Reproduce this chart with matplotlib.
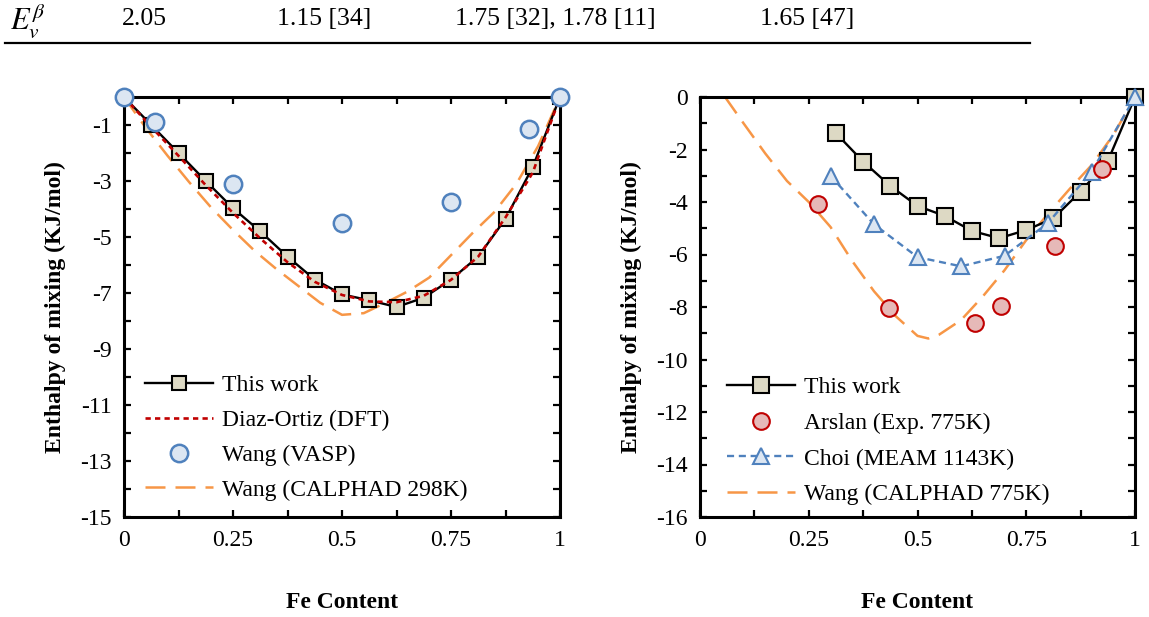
import matplotlib
matplotlib.use("Agg")
import matplotlib.pyplot as plt
from matplotlib.lines import Line2D
import numpy as np

# ---- data ----
# left panel
x_work_l = [0, 0.0625, 0.125, 0.1875, 0.25, 0.3125, 0.375, 0.4375, 0.5, 0.5625,
            0.625, 0.6875, 0.75, 0.8125, 0.875, 0.9375, 1]
y_work_l = [0, -1.0, -2.0, -3.0, -3.97, -4.8, -5.7, -6.52, -7.05, -7.26,
            -7.5, -7.17, -6.52, -5.7, -4.35, -2.5, 0]

x_dft = [0, 0.0625, 0.125, 0.1875, 0.25, 0.3125, 0.375, 0.4375, 0.5, 0.5625,
         0.625, 0.6875, 0.75, 0.8125, 0.875, 0.9375, 1]
y_dft = [0, -1.07, -2.1, -3.15, -4.14, -5.05, -5.9, -6.6, -7.07, -7.3,
         -7.33, -7.1, -6.53, -5.7, -4.3, -2.7, 0]

x_vasp = [0, 0.0714, 0.25, 0.5, 0.75, 0.9286, 1]
y_vasp = [0, -0.89, -3.1, -4.5, -3.75, -1.14, 0]

x_calphad298 = [0, 0.05, 0.1, 0.15, 0.2, 0.25, 0.3, 0.35, 0.4, 0.45, 0.5,
                0.55, 0.6, 0.65, 0.7, 0.75, 0.8, 0.85, 0.9, 0.95, 1]
y_calphad298 = [0, -1.1, -2.1, -3.05, -3.95, -4.75, -5.5, -6.15, -6.75, -7.35, -7.78,
                -7.72, -7.35, -6.95, -6.45, -5.65, -4.85, -4.1, -3.1, -1.75, 0]

# right panel
x_work_r = [0.3125, 0.375, 0.4375, 0.5, 0.5625, 0.625, 0.6875, 0.75, 0.8125,
            0.875, 0.9375, 1]
y_work_r = [-1.38, -2.46, -3.39, -4.15, -4.53, -5.1, -5.38, -5.07, -4.62,
            -3.6, -2.44, 0]

x_arslan = [0.272, 0.435, 0.632, 0.693, 0.816, 0.923]
y_arslan = [-4.08, -8.03, -8.6, -7.98, -5.66, -2.74]

x_choi = [0.3, 0.4, 0.5, 0.6, 0.7, 0.8, 0.9, 1.0]
y_choi = [-3.0, -4.85, -6.1, -6.45, -6.05, -4.8, -2.85, 0]

x_calphad775 = [0.0575, 0.1, 0.15, 0.2, 0.25, 0.3, 0.35, 0.4, 0.45, 0.5, 0.525,
                0.55, 0.6, 0.65, 0.7, 0.75, 0.8, 0.85, 0.9, 0.95, 1]
y_calphad775 = [0, -1.0, -2.15, -3.2, -4.0, -4.95, -6.25, -7.4, -8.35, -9.1, -9.2,
                -9.05, -8.5, -7.6, -6.6, -5.45, -4.45, -3.5, -2.6, -1.45, 0]

table_cells = ["2.05", "1.15 [34]", "1.75 [32], 1.78 [11]", "1.65 [47]"]

# ---- style ----
plt.rcParams["font.family"] = "Liberation Serif"
plt.rcParams["mathtext.fontset"] = "stix"
FS = 17

beige = "#DDD9C4"
blue_face = "#DCE6F2"
blue_edge = "#4F81BD"
red_face = "#E6B9B8"
red_edge = "#C00000"
orange = "#F79646"

fig = plt.figure(figsize=(11.49, 6.17), dpi=100)
W, H = 1149, 617

ax1 = fig.add_axes([124 / W, 1 - 517 / H, 436 / W, 420 / H])
ax2 = fig.add_axes([700 / W, 1 - 517 / H, 435 / W, 420 / H])


def style_axes(ax, ymin, label_every_odd):
    ax.set_xlim(0, 1)
    ax.set_ylim(ymin, 0)
    xt = np.arange(0, 1.001, 0.125)
    ax.set_xticks(xt)
    xl = {0: "0", 2: "0.25", 4: "0.5", 6: "0.75", 8: "1"}
    ax.set_xticklabels([xl.get(i, "") for i in range(len(xt))])
    yt = list(range(ymin, 1))
    ax.set_yticks(yt)
    labels = []
    for v in yt:
        show = (v % 2 != 0) if label_every_odd else (v % 2 == 0)
        labels.append(str(v) if show else "")
    ax.set_yticklabels(labels)
    ax.tick_params(direction="in", length=5, width=1.6, top=True, right=True,
                   labelsize=FS, pad=9)
    for s in ax.spines.values():
        s.set_linewidth(2.2)
    ax.set_xlabel("Fe Content", fontsize=FS, fontweight="bold", labelpad=30)
    ax.set_ylabel("Enthalpy of mixing (KJ/mol)", fontsize=FS, fontweight="bold", labelpad=10)


style_axes(ax1, -15, True)
style_axes(ax2, -16, False)

# left panel
h_cal1, = ax1.plot(x_calphad298, y_calphad298, color=orange, lw=1.8,
                   linestyle=(0, (8, 4)), label="Wang (CALPHAD 298K)", zorder=2)
h_work1, = ax1.plot(x_work_l, y_work_l, color="black", lw=1.7, marker="s", ms=10.5,
                    mfc=beige, mec="black", mew=1.5, label="This work", zorder=3)
h_dft, = ax1.plot(x_dft, y_dft, color=red_edge, lw=1.9, linestyle=(0, (2, 1.6)),
                  label="Diaz-Ortiz (DFT)", zorder=4)
h_vasp, = ax1.plot(x_vasp, y_vasp, linestyle="none", marker="o", ms=12.5,
                   mfc=blue_face, mec=blue_edge, mew=1.8, label="Wang (VASP)",
                   zorder=5, clip_on=False)
ax1.legend(handles=[h_work1, h_dft, h_vasp, h_cal1], loc="lower left",
           bbox_to_anchor=(0.048, 0.039), frameon=False, fontsize=FS,
           borderpad=0, borderaxespad=0, handlelength=2.9, handletextpad=0.35,
           labelspacing=0.56)

# right panel
h_cal2, = ax2.plot(x_calphad775, y_calphad775, color=orange, lw=1.8,
                   linestyle=(0, (8, 4)), label="Wang (CALPHAD 775K)", zorder=2)
h_work2, = ax2.plot(x_work_r, y_work_r, color="black", lw=1.7, marker="s", ms=11.5,
                    mfc=beige, mec="black", mew=1.5, label="This work", zorder=3,
                    clip_on=False)
h_choi, = ax2.plot(x_choi, y_choi, color=blue_edge, lw=1.7, linestyle=(0, (3, 2)),
                   marker="^", ms=12, mfc=blue_face, mec=blue_edge, mew=1.5,
                   label="Choi (MEAM 1143K)", zorder=4, clip_on=False)
h_ars, = ax2.plot(x_arslan, y_arslan, linestyle="none", marker="o", ms=12,
                  mfc=red_face, mec=red_edge, mew=1.5, label="Arslan (Exp. 775K)",
                  zorder=5)
ax2.legend(handles=[h_work2, h_ars, h_choi, h_cal2], loc="lower left",
           bbox_to_anchor=(0.062, 0.028), frameon=False, fontsize=FS,
           borderpad=0, borderaxespad=0, handlelength=2.9, handletextpad=0.35,
           labelspacing=0.6)

# table row on top
fig.text(10 / W, 1 - 21 / H, r"$E_v^{\beta}$", fontsize=22, ha="left", va="center")
xs = [122, 277, 455, 760]
for x, t in zip(xs, table_cells):
    fig.text(x / W, 1 - 19 / H, t, fontsize=18.5, ha="left", va="center")
fig.add_artist(Line2D([5 / W, 1030 / W], [1 - 43 / H, 1 - 43 / H], color="black", lw=1.6))

fig.savefig("out.png", dpi=100)
